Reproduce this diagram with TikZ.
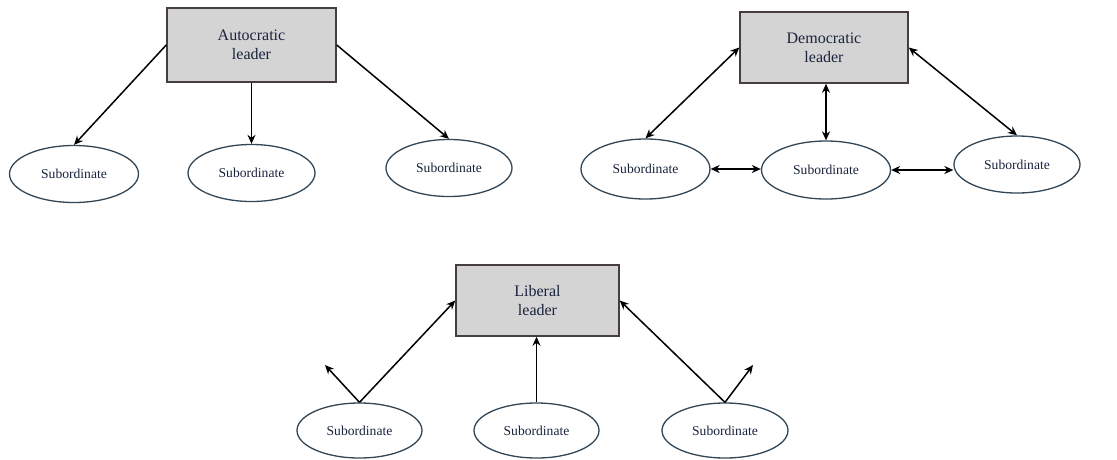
\documentclass[tikz,border=0pt]{standalone}
\usepackage{fontspec}
\setmainfont{Liberation Serif}
\usetikzlibrary{shapes.geometric,arrows.meta}
\definecolor{boxfill}{RGB}{212,212,212}
\definecolor{boxline}{RGB}{70,62,60}
\definecolor{ellline}{RGB}{50,70,85}
\definecolor{txt}{RGB}{25,35,60}
\tikzset{
  leader/.style={draw=boxline,fill=boxfill,line width=1.5pt,minimum width=#1,inner sep=0pt,
    font=\fontsize{16}{19}\selectfont,text=txt,align=center},
  sub/.style={draw=ellline,ellipse,line width=1.3pt,minimum width=127pt,minimum height=57pt,inner sep=0pt,
    font=\fontsize{13.6}{16}\selectfont,text=txt},
  conn/.style={line width=1.5pt,black,-{Stealth[length=9pt,width=8pt]}},
  conn2/.style={line width=1.5pt,black,{Stealth[length=9pt,width=8pt]}-{Stealth[length=9pt,width=8pt]}}
}
\begin{document}
\begin{tikzpicture}[x=1pt,y=-1pt]
\useasboundingbox (0,0) rectangle (1117,459);
% Autocratic
\node[leader=169pt,minimum height=74pt] (a) at (251.5,45) {Autocratic\\leader};
\node[sub,minimum width=129pt] (a1) at (74,174) {Subordinate};
\node[sub] (a2) at (251.5,173) {Subordinate};
\node[sub,minimum width=126pt] (a3) at (449,168) {Subordinate};
\draw[conn] (a.west) -- (a1.north);
\draw[conn] (a.south) -- (a2.north);
\draw[conn] (a.east) -- (a3.north);
% Democratic
\node[leader=168pt,minimum height=71pt] (d) at (824,47.5) {Democratic\\leader};
\node[sub,minimum width=129pt,minimum height=60pt] (d1) at (645.5,169) {Subordinate};
\node[sub,minimum width=129pt,minimum height=58pt] (d2) at (826,170) {Subordinate};
\node[sub,minimum width=126pt] (d3) at (1017,164.5) {Subordinate};
\draw[conn2] (d.west) -- (d1.north);
\draw[conn2] (d.south -| d2.north) -- (d2.north);
\draw[conn2] (d.east) -- (d3.north);
\draw[conn2] (d1.east) -- (d1.east -| d2.west);
\draw[conn2] (d2.east) -- (d2.east -| d3.west);
% Liberal
\node[leader=163pt,minimum height=71pt] (l) at (537.5,300.5) {Liberal\\leader};
\node[sub,minimum width=125pt,minimum height=55pt] (l1) at (359.5,430.5) {Subordinate};
\node[sub,minimum width=125pt,minimum height=55pt] (l2) at (536.5,430.5) {Subordinate};
\node[sub,minimum width=126pt,minimum height=55pt] (l3) at (725,430.5) {Subordinate};
\coordinate (lb1) at (325,365);
\coordinate (lb3) at (753,365);
\draw[conn] (l1.north) -- (l.west);
\draw[conn] (l1.north) -- (lb1);
\draw[conn] (l2.north) -- (l2.north |- l.south);
\draw[conn] (l3.north) -- (l.east);
\draw[conn] (l3.north) -- (lb3);
\end{tikzpicture}
\end{document}
